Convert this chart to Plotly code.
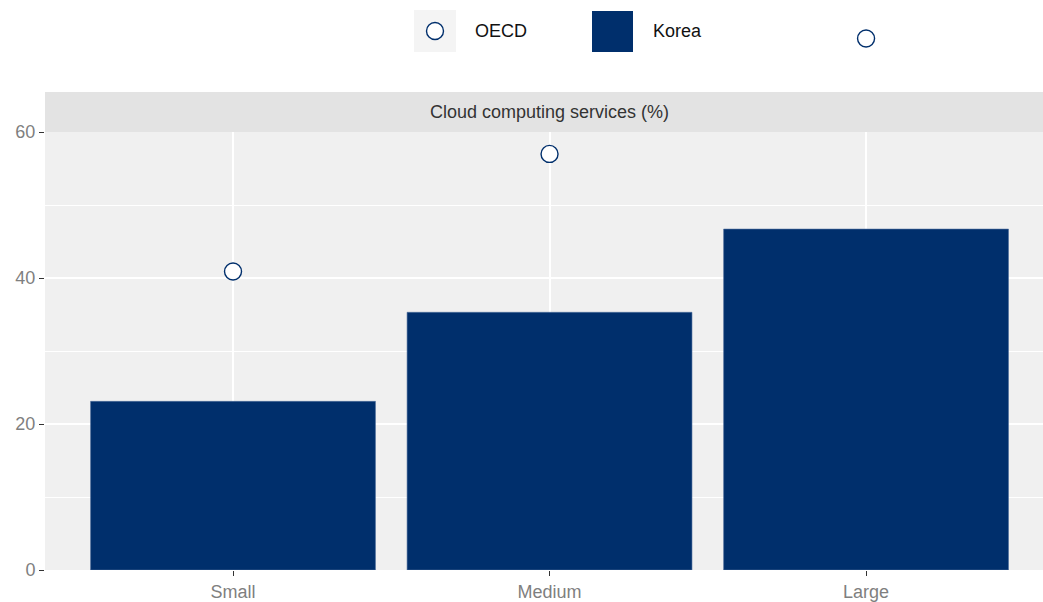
import plotly.graph_objects as go

categories = ["Small", "Medium", "Large"]
korea = [23.1, 35.3, 46.7]
oecd = [40.9, 57.0, 72.8]
y_ticks = [0, 20, 40, 60]
y_minor = [10, 30, 50]
y_max = 60

NAVY = "#002F6C"
FONT = "Liberation Sans, Arial, sans-serif"
FS = 18

W, H = 1043, 602
ML, MR, MT, MB = 45, 0, 0, 32
PANEL_TOP = 132          # pixel row of the panel top
PW = W - ML - MR
PH = H - MT - MB
PANEL_FRAC = (H - MB - PANEL_TOP) / PH
X_RANGE = [-0.594, 2.559]


def px(x):
    return (x - ML) / PW


def py(y):
    return (H - MB - y) / PH


fig = go.Figure()
fig.add_trace(go.Bar(
    x=categories, y=korea, name="Korea", width=0.9,
    marker=dict(color=NAVY, line=dict(color="#4d6d9c", width=0.6)),
    showlegend=False, xaxis="x", yaxis="y",
))
# OECD markers on an invisible twin subplot with the same scale that spans the
# full figure height, so the value above the panel is still drawn.
fig.add_trace(go.Scatter(
    x=categories, y=oecd, name="OECD", mode="markers", cliponaxis=False,
    marker=dict(symbol="circle", size=17, color="white",
                line=dict(color=NAVY, width=1.4)),
    showlegend=False, xaxis="x2", yaxis="y2",
))

shapes = [
    # panel background
    dict(type="rect", xref="paper", yref="paper", x0=0, x1=1,
         y0=0, y1=PANEL_FRAC, fillcolor="#f0f0f0", line=dict(width=0), layer="below"),
    # facet strip
    dict(type="rect", xref="paper", yref="paper", x0=0, x1=1,
         y0=PANEL_FRAC, y1=py(92), fillcolor="#e3e3e3", line=dict(width=0), layer="below"),
    # legend keys
    dict(type="rect", xref="paper", yref="paper", x0=px(414), x1=px(456),
         y0=py(52), y1=py(10), fillcolor="#f4f4f4", line=dict(width=0)),
    dict(type="circle", xref="paper", yref="paper", x0=px(426.5), x1=px(443.5),
         y0=py(39.5), y1=py(22.5), fillcolor="white", line=dict(color=NAVY, width=1.4)),
    dict(type="rect", xref="paper", yref="paper", x0=px(592), x1=px(633),
         y0=py(52), y1=py(11), fillcolor=NAVY, line=dict(width=0)),
]

annotations = [
    dict(text="Cloud computing services (%)", xref="paper", yref="paper",
         x=px(549), y=py(112), showarrow=False, xanchor="center", yanchor="middle",
         font=dict(family=FONT, size=FS, color="#333333")),
    dict(text="OECD", xref="paper", yref="paper", x=px(473), y=py(31),
         showarrow=False, xanchor="left", yanchor="middle",
         font=dict(family=FONT, size=FS, color="#111111")),
    dict(text="Korea", xref="paper", yref="paper", x=px(651), y=py(31),
         showarrow=False, xanchor="left", yanchor="middle",
         font=dict(family=FONT, size=FS, color="#111111")),
]

fig.update_layout(
    width=W, height=H, autosize=False,
    margin=dict(l=ML, r=MR, t=MT, b=MB, pad=0, autoexpand=False),
    paper_bgcolor="white", plot_bgcolor="rgba(0,0,0,0)",
    showlegend=False,
    shapes=shapes, annotations=annotations,
    bargap=0.1,
    font=dict(family=FONT, size=FS, color="#7f7f7f"),
    xaxis=dict(
        type="category", range=X_RANGE, automargin=False, anchor="y",
        showgrid=True, gridcolor="white", gridwidth=1.5,
        ticks="outside", ticklen=5, tickcolor="#333333", tickwidth=1.2,
        showline=False, zeroline=False,
        tickfont=dict(family=FONT, size=FS, color="#7f7f7f"),
    ),
    yaxis=dict(
        domain=[0, PANEL_FRAC], range=[0, y_max], tickvals=y_ticks, automargin=False,
        anchor="x",
        showgrid=True, gridcolor="white", gridwidth=1.5,
        minor=dict(tickvals=y_minor, showgrid=True, gridcolor="white", gridwidth=0.8),
        ticks="outside", ticklen=5, tickcolor="#333333", tickwidth=1.2,
        showline=False, zeroline=False,
        tickfont=dict(family=FONT, size=FS, color="#7f7f7f"),
    ),
    xaxis2=dict(
        type="category", range=X_RANGE, domain=[0, 1], anchor="y2",
        visible=False, showgrid=False, zeroline=False, automargin=False,
    ),
    yaxis2=dict(
        domain=[0, 1], range=[0, y_max / PANEL_FRAC], anchor="x2",
        visible=False, showgrid=False, zeroline=False, automargin=False,
    ),
)

fig.write_html(
    "out.html",
    config={"responsive": False, "displayModeBar": False},
    post_script="document.body.style.margin='0';document.body.style.overflow='hidden';",
)
